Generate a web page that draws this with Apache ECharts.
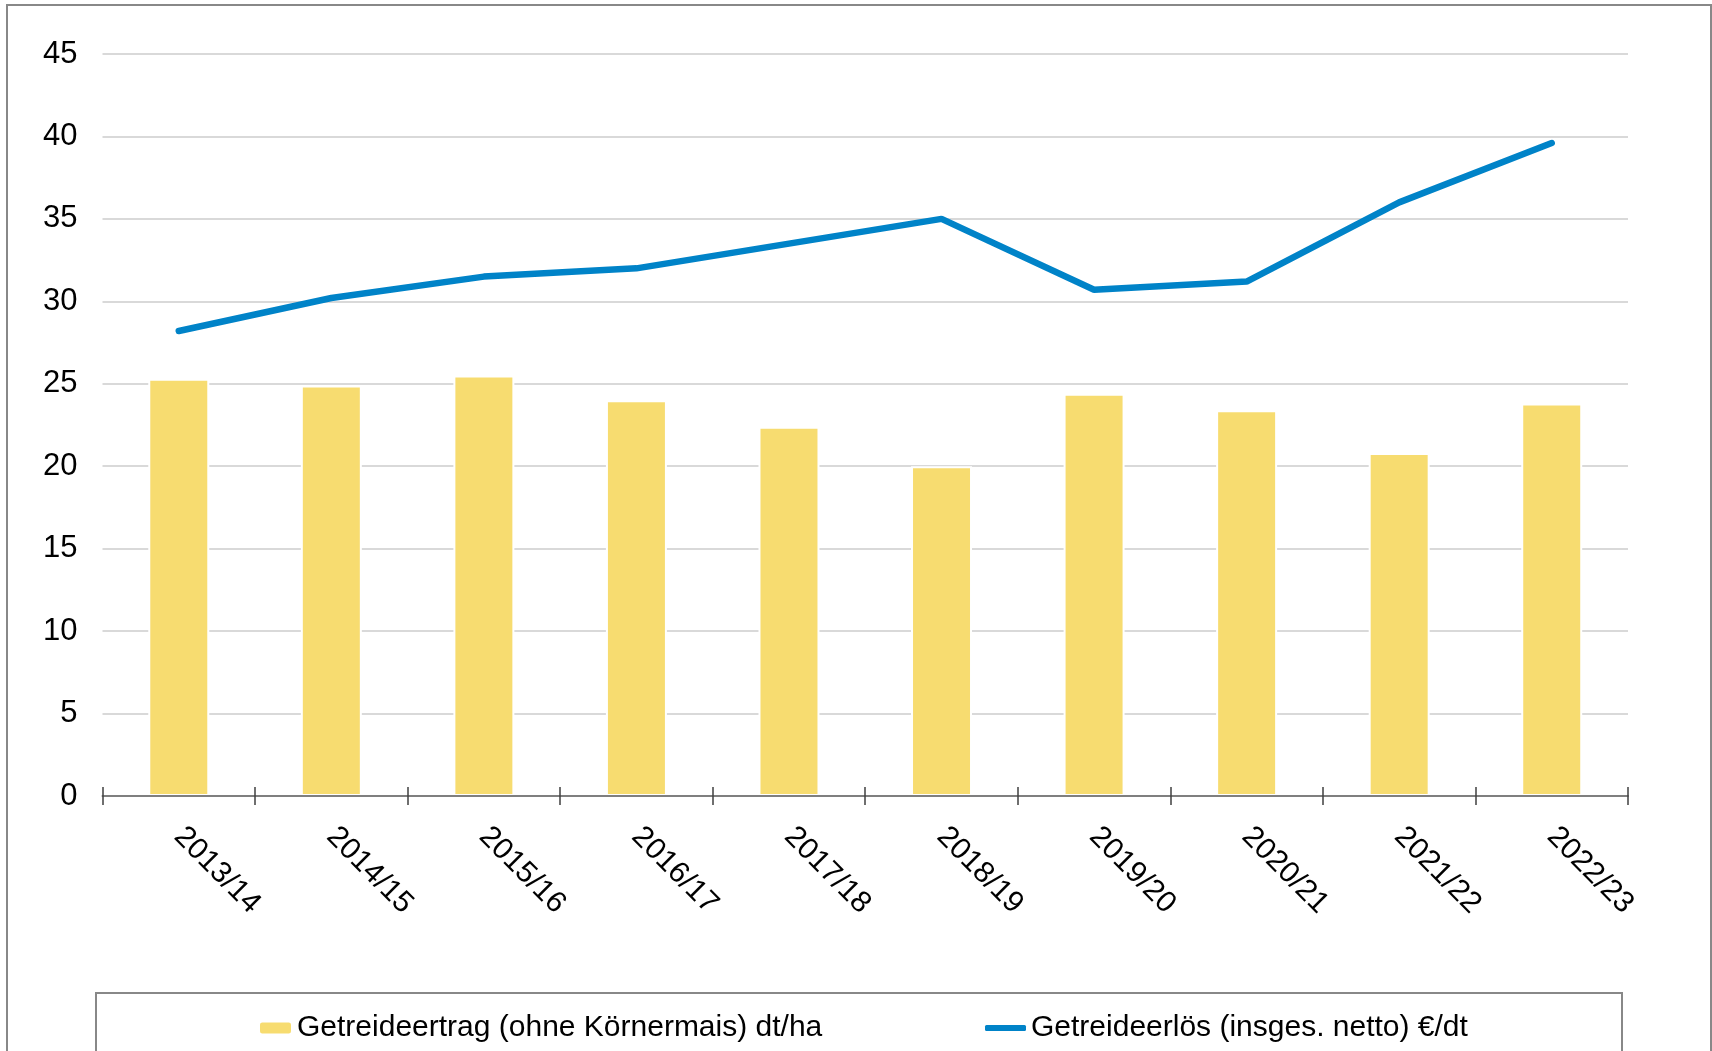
<!DOCTYPE html>
<html>
<head>
  <meta charset="utf-8">
  <title>Getreideertrag und Getreideerlös</title>
  <script src="https://cdn.jsdelivr.net/npm/echarts@6.0.0/dist/echarts.min.js"></script>
  <style>
    html, body { margin: 0; padding: 0; background: #fff; }
    #main { width: 1712px; height: 1051px; }
  </style>
</head>
<body>
<div id="main"></div>
<script type="text/javascript">
var years = ['2013/14', '2014/15', '2015/16', '2016/17', '2017/18',
             '2018/19', '2019/20', '2020/21', '2021/22', '2022/23'];
var ertrag = [25.3, 24.9, 25.5, 24.0, 22.4, 20.0, 24.4, 23.4, 20.8, 23.8];
var erloes = [28.2, 30.2, 31.5, 32.0, 33.5, 35.0, 30.7, 31.2, 36.0, 39.6];
var nameErtrag = 'Getreideertrag (ohne Körnermais) dt/ha';
var nameErloes = 'Getreideerlös (insges. netto) €/dt';

var font = '"Liberation Sans", Arial, sans-serif';
var myChart = echarts.init(document.getElementById('main'));

var legendText = {
  fontFamily: font,
  fontSize: 30,
  color: '#000',
  lineHeight: 36
};

var option = {
  backgroundColor: '#ffffff',
  animation: false,
  textStyle: { fontFamily: font },
  grid: {
    left: 102.5,
    right: 84,
    top: 54,
    bottom: 255,
    containLabel: false,
    outerBoundsMode: 'none'
  },
  legend: [{
    data: [nameErtrag],
    left: 258,
    top: 1010,
    padding: 0,
    itemWidth: 33,
    itemHeight: 13,
    itemGap: 0,
    textStyle: legendText
  }, {
    data: [{ name: nameErloes, icon: 'roundRect' }],
    left: 985,
    top: 1010,
    padding: 0,
    itemWidth: 41,
    itemHeight: 6,
    itemGap: 0,
    textStyle: legendText
  }],
  xAxis: [{
    type: 'category',
    data: years,
    z: 5,
    axisLine: { lineStyle: { color: '#7f7f7f', width: 2 } },
    axisTick: { show: true, length: 9, lineStyle: { color: '#404040', width: 1.5 } },
    axisLabel: {
      rotate: -45,
      margin: 36,
      fontFamily: font,
      fontSize: 30,
      color: '#000'
    },
    splitLine: { show: false }
  }, {
    type: 'category',
    data: years,
    position: 'bottom',
    z: 5,
    axisLine: { show: false },
    axisTick: { show: true, inside: true, length: 9, lineStyle: { color: '#404040', width: 1.5 } },
    axisLabel: { show: false },
    splitLine: { show: false }
  }],
  yAxis: {
    type: 'value',
    min: 0,
    max: 45,
    interval: 5,
    axisLine: { show: false },
    axisTick: { show: false },
    axisLabel: {
      margin: 25,
      fontFamily: font,
      fontSize: 31,
      color: '#000'
    },
    splitLine: { lineStyle: { color: '#d9d9d9', width: 2 } }
  },
  series: [{
    name: nameErtrag,
    type: 'bar',
    data: ertrag,
    barWidth: 61,
    itemStyle: {
      color: '#f7dc70',
      borderColor: '#ffffff',
      borderWidth: 2
    }
  }, {
    name: nameErloes,
    type: 'line',
    data: erloes,
    symbol: 'none',
    lineStyle: { color: '#0083c8', width: 6.5, cap: 'round' },
    itemStyle: { color: '#0083c8' }
  }],
  graphic: [{
    type: 'rect',
    shape: { x: 7, y: 5, width: 1704, height: 1100 },
    style: { fill: 'none', stroke: '#888888', lineWidth: 2 },
    silent: true
  }, {
    type: 'rect',
    shape: { x: 96, y: 993, width: 1526, height: 100 },
    style: { fill: 'none', stroke: '#888888', lineWidth: 2 },
    silent: true
  }]
};

myChart.setOption(option);
</script>
</body>
</html>
